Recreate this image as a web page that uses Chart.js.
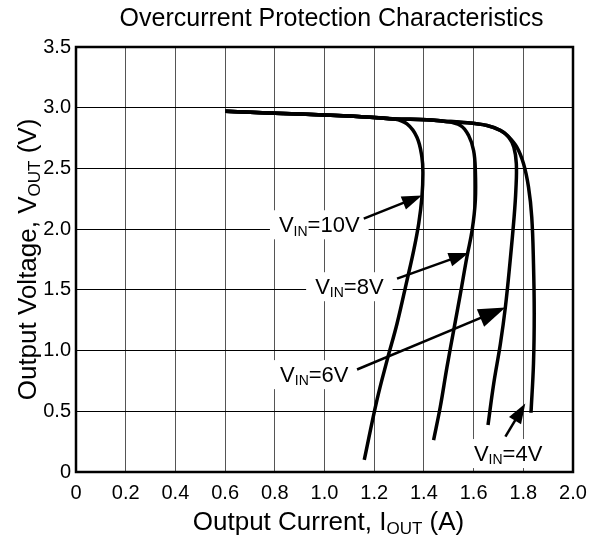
<!DOCTYPE html>
<html><head><meta charset="utf-8">
<script src="https://cdn.jsdelivr.net/npm/chart.js@4/dist/chart.umd.min.js"></script>
<style>html,body{margin:0;padding:0;background:#fff}#wrap{width:597px;height:540px;position:relative}</style>
</head><body><div id="wrap"><canvas id="c"></canvas></div>
<script>
// ---- data ----
const xTicks = [0, 0.2, 0.4, 0.6, 0.8, 1.0, 1.2, 1.4, 1.6, 1.8, 2.0];
const xTickLabels = ['0','0.2','0.4','0.6','0.8','1.0','1.2','1.4','1.6','1.8','2.0'];
const yTicks = [0, 0.5, 1.0, 1.5, 2.0, 2.5, 3.0, 3.5];
const yTickLabels = ['0','0.5','1.0','1.5','2.0','2.5','3.0','3.5'];

const vin10X = [0.60, 0.80, 1.00, 1.20, 1.28, 1.332, 1.372, 1.392, 1.396, 1.392, 1.379, 1.359, 1.332, 1.292, 1.252, 1.211, 1.160];
const vin10Y = [2.97, 2.955, 2.94, 2.92, 2.908, 2.867, 2.757, 2.593, 2.456, 2.264, 2.045, 1.826, 1.579, 1.223, 0.921, 0.592, 0.099];

const vin8X = [0.60, 0.80, 1.00, 1.20, 1.28, 1.412, 1.48, 1.547, 1.580, 1.600, 1.607, 1.607, 1.594, 1.573, 1.547, 1.520, 1.493, 1.466, 1.439];
const vin8Y = [2.97, 2.955, 2.94, 2.92, 2.908, 2.900, 2.889, 2.854, 2.771, 2.648, 2.484, 2.237, 1.990, 1.771, 1.469, 1.168, 0.866, 0.537, 0.263];

const vin6X = [0.60, 0.80, 1.00, 1.20, 1.28, 1.412, 1.48, 1.547, 1.654, 1.708, 1.741, 1.762, 1.772, 1.770, 1.763, 1.746, 1.728, 1.708, 1.681, 1.658];
const vin6Y = [2.97, 2.955, 2.94, 2.92, 2.908, 2.900, 2.889, 2.881, 2.854, 2.813, 2.758, 2.675, 2.538, 2.319, 2.100, 1.716, 1.360, 1.058, 0.729, 0.387];

const vin4X = [0.60, 0.80, 1.00, 1.20, 1.28, 1.412, 1.48, 1.547, 1.654, 1.708, 1.736, 1.774, 1.801, 1.821, 1.834, 1.841, 1.844, 1.841, 1.831];
const vin4Y = [2.97, 2.955, 2.94, 2.92, 2.908, 2.900, 2.889, 2.881, 2.854, 2.813, 2.771, 2.675, 2.538, 2.346, 2.100, 1.716, 1.305, 0.894, 0.488];

// annotation labels: [main, sub, rest], centre (x,y) and arrow tail -> tip
const labelText = [['V','IN','=10V'], ['V','IN','=8V'], ['V','IN','=6V'], ['V','IN','=4V']];
const labelX = [0.979, 1.10, 0.959, 1.739];
const labelY = [2.04, 1.53, 0.806, 0.156];
const arrowTailX = [1.158, 1.292, 1.131, 1.728];
const arrowTailY = [2.086, 1.593, 0.844, 0.291];
const arrowTipX = [1.392, 1.580, 1.728, 1.808];
const arrowTipY = [2.277, 1.804, 1.354, 0.565];
const arrowHead = [1, 1, 1.35, 1];

const zip = (xs, ys) => xs.map((v, i) => ({x: v, y: ys[i]}));
const FONT = '"Liberation Sans", Arial, sans-serif';

function drawSubText(ctx, parts, cx, cy, size, subSize) {
  ctx.font = size + 'px ' + FONT;
  const w0 = ctx.measureText(parts[0]).width;
  const w2 = ctx.measureText(parts[2]).width;
  ctx.font = subSize + 'px ' + FONT;
  const w1 = ctx.measureText(parts[1]).width;
  const w = w0 + w1 + w2;
  let x = cx - w / 2;
  ctx.textAlign = 'left';
  ctx.textBaseline = 'alphabetic';
  const base = cy + size * 0.36;
  ctx.font = size + 'px ' + FONT;
  ctx.fillText(parts[0], x, base); x += w0;
  ctx.font = subSize + 'px ' + FONT;
  ctx.fillText(parts[1], x, base + size * 0.15); x += w1;
  ctx.font = size + 'px ' + FONT;
  ctx.fillText(parts[2], x, base);
  return w;
}

const LBL = 22, LBLSUB = 14;

const decor = {
  id: 'decor',
  beforeDatasetsDraw(chart) {
    const {ctx, scales: {x, y}} = chart;
    ctx.save();
    ctx.fillStyle = '#fff';
    labelText.forEach((p, i) => {
      ctx.font = LBL + 'px ' + FONT;
      const wa = ctx.measureText(p[0] + p[2]).width;
      ctx.font = LBLSUB + 'px ' + FONT;
      const w = wa + ctx.measureText(p[1]).width;
      const cx = x.getPixelForValue(labelX[i]);
      const cy = y.getPixelForValue(labelY[i]);
      ctx.fillRect(cx - w / 2 - 9, cy - 14, w + 18, 29);
    });
    ctx.restore();
  },
  afterDatasetsDraw(chart) {
    const {ctx, chartArea: a, scales: {x, y}} = chart;
    ctx.save();
    ctx.fillStyle = '#000';
    ctx.strokeStyle = '#000';
    // labels
    labelText.forEach((p, i) => {
      drawSubText(ctx, p, x.getPixelForValue(labelX[i]), y.getPixelForValue(labelY[i]), LBL, LBLSUB);
    });
    // arrows
    arrowTipX.forEach((tx, i) => {
      const x1 = x.getPixelForValue(arrowTailX[i]), y1 = y.getPixelForValue(arrowTailY[i]);
      const x2 = x.getPixelForValue(tx), y2 = y.getPixelForValue(arrowTipY[i]);
      const ang = Math.atan2(y2 - y1, x2 - x1);
      const L = 20 * arrowHead[i], W = 7 * arrowHead[i];
      ctx.lineWidth = 2.5;
      ctx.beginPath();
      ctx.moveTo(x1, y1);
      ctx.lineTo(x2 - Math.cos(ang) * L * 0.8, y2 - Math.sin(ang) * L * 0.8);
      ctx.stroke();
      ctx.beginPath();
      ctx.moveTo(x2, y2);
      ctx.lineTo(x2 - Math.cos(ang) * L - Math.sin(ang) * W, y2 - Math.sin(ang) * L + Math.cos(ang) * W);
      ctx.lineTo(x2 - Math.cos(ang) * L + Math.sin(ang) * W, y2 - Math.sin(ang) * L - Math.cos(ang) * W);
      ctx.closePath();
      ctx.fill();
    });
    // frame
    ctx.lineWidth = 2.5;
    ctx.strokeRect(a.left, a.top, a.right - a.left, a.bottom - a.top);
    // title
    ctx.font = '25px ' + FONT;
    ctx.textAlign = 'center';
    ctx.textBaseline = 'middle';
    ctx.fillText('Overcurrent Protection Characteristics', (a.left + a.right) / 2 + 7, 19);
    // x title
    drawSubText(ctx, ['Output Current, I', 'OUT', ' (A)'], (a.left + a.right) / 2 + 4, 521, 26, 17);
    // y title
    ctx.translate(27, (a.top + a.bottom) / 2);
    ctx.rotate(-Math.PI / 2);
    drawSubText(ctx, ['Output Voltage, V', 'OUT', ' (V)'], 0, 0, 26, 17);
    ctx.restore();
  }
};

const mk = (d) => ({data: d, showLine: true, borderColor: '#000', borderWidth: 3.5, pointRadius: 0, tension: 0.4, fill: false, borderCapStyle: 'butt', borderJoinStyle: 'round'});

new Chart(document.getElementById('c'), {
  type: 'scatter',
  data: {datasets: [mk(zip(vin10X, vin10Y)), mk(zip(vin8X, vin8Y)), mk(zip(vin6X, vin6Y)), mk(zip(vin4X, vin4Y))]},
  options: {
    responsive: true, maintainAspectRatio: false, animation: false,
    layout: {padding: {left: 0, top: 47, right: 24, bottom: 0}},
    plugins: {legend: {display: false}, tooltip: {enabled: false}, title: {display: false}},
    scales: {
      x: {
        type: 'linear', min: 0, max: 2.0,
        afterBuildTicks: s => { s.ticks = xTicks.map(v => ({value: v})); },
        afterFit: s => { s.height = 68; },
        ticks: {callback: (v, i) => xTickLabels[i], color: '#000', font: {family: FONT, size: 20}, padding: 9, maxRotation: 0, autoSkip: false},
        grid: {color: '#555', lineWidth: 1, drawTicks: false},
        border: {display: false}
      },
      y: {
        type: 'linear', min: 0, max: 3.5,
        afterBuildTicks: s => { s.ticks = yTicks.map(v => ({value: v})); },
        afterFit: s => { s.width = 76; },
        ticks: {callback: (v, i) => yTickLabels[i], color: '#000', font: {family: FONT, size: 20}, padding: 5, autoSkip: false},
        grid: {color: '#000', lineWidth: 1, drawTicks: false},
        border: {display: false}
      }
    }
  },
  plugins: [decor]
});
</script>
</body></html>
